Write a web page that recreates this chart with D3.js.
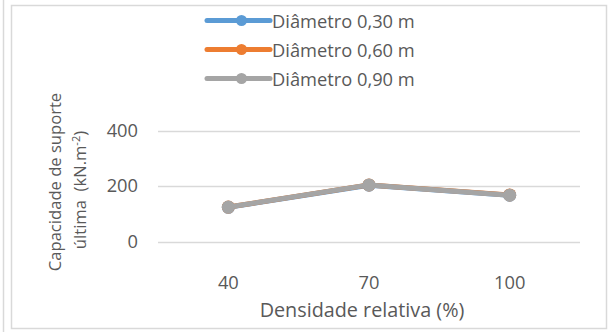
<!DOCTYPE html>
<html>
<head>
<meta charset="utf-8">
<script src="https://cdn.jsdelivr.net/npm/d3@7"></script>
<style>
  html, body { margin: 0; padding: 0; background: #fff; }
  svg { display: block; }
  text { font-family: "Open Sans", Lato, sans-serif; fill: #595959; }
</style>
</head>
<body>
<script>
// Densidade relativa (%) categories and ultimate bearing capacity per pile diameter
const categories = ["40", "70", "100"];
const seriesNames = ["Diâmetro 0,30 m", "Diâmetro 0,60 m", "Diâmetro 0,90 m"];
const diam030 = [123, 203, 167];
const diam060 = [124, 204, 168];
const diam090 = [124, 204, 167];
const yTicks = [0, 200, 400];
const colors = ["#5B9BD5", "#ED7D31", "#A5A5A5"];

const seriesValues = [diam030, diam060, diam090];
const W = 609, H = 332;
const plot = { left: 158, right: 580, top: 130.5, bottom: 241.5 };
const FONT = "'Open Sans', Lato, sans-serif";
const TICK_SIZE = "18.3px", XTITLE_SIZE = "19.8px", YTITLE_SIZE = "16.6px";

const svg = d3.select("body").append("svg").attr("width", W).attr("height", H);

// outer frames
svg.append("line").attr("x1", 3.5).attr("x2", 3.5).attr("y1", 0).attr("y2", H)
  .attr("stroke", "#D9D9D9").attr("stroke-width", 1.5);
svg.append("rect").attr("x", 11.5).attr("y", 5.5).attr("width", 595).attr("height", 323)
  .attr("fill", "none").attr("stroke", "#D9D9D9").attr("stroke-width", 1.5);

const x = d3.scaleBand().domain(categories).range([plot.left, plot.right]);
const y = d3.scaleLinear().domain([0, 400]).range([plot.bottom, plot.top]);

// gridlines
svg.append("g").selectAll("line").data(yTicks).join("line")
  .attr("x1", plot.left).attr("x2", plot.right)
  .attr("y1", d => Math.round(y(d)) + 0.5).attr("y2", d => Math.round(y(d)) + 0.5)
  .attr("stroke", "#D9D9D9").attr("stroke-width", 1.5);

// y axis labels
const yAxis = d3.axisLeft(y).tickValues(yTicks).tickSize(0).tickPadding(0);
const gy = svg.append("g").attr("transform", `translate(138,0)`).call(yAxis);
gy.select(".domain").remove();
gy.selectAll("text").style("font-size", TICK_SIZE).attr("fill", "#595959")
  .style("font-family", FONT);

// x axis labels
const xAxis = d3.axisBottom(x).tickSize(0).tickPadding(0);
const gx = svg.append("g").attr("transform", `translate(0,276)`).call(xAxis);
gx.select(".domain").remove();
gx.selectAll("text").style("font-size", TICK_SIZE).attr("fill", "#595959")
  .style("font-family", FONT);

// axis titles
svg.append("text").attr("x", 362).attr("y", 316.5).attr("text-anchor", "middle")
  .style("font-size", XTITLE_SIZE).text("Densidade relativa (%)");

const yt = svg.append("text").attr("transform", "translate(0,182) rotate(-90)")
  .attr("text-anchor", "middle").style("font-size", YTITLE_SIZE);
yt.append("tspan").attr("x", 0).attr("y", 61).text("Capacidade de suporte");
const yt2 = svg.append("text").attr("transform", "translate(0,190) rotate(-90)")
  .attr("text-anchor", "middle").style("font-size", YTITLE_SIZE)
  .style("white-space", "pre");
yt2.append("tspan").attr("y", 86).text("última  (kN.m");
yt2.append("tspan").attr("dy", -6).style("font-size", "11px").text("-2");
yt2.append("tspan").attr("dy", 6).text(")");

// series lines and markers
const line = d3.line().x((d, i) => x(categories[i]) + x.bandwidth() / 2).y(d => y(d));
seriesValues.forEach((vals, s) => {
  const g = svg.append("g");
  g.append("path").datum(vals).attr("d", line).attr("fill", "none")
    .attr("stroke", colors[s]).attr("stroke-width", 5).attr("stroke-linejoin", "round");
  g.selectAll("circle").data(vals).join("circle")
    .attr("cx", (d, i) => x(categories[i]) + x.bandwidth() / 2)
    .attr("cy", d => y(d)).attr("r", 6.5).attr("fill", colors[s]);
});

// legend
const legend = svg.append("g");
seriesNames.forEach((name, s) => {
  const ly = 20.5 + s * 29;
  legend.append("line").attr("x1", 207).attr("x2", 270).attr("y1", ly).attr("y2", ly)
    .attr("stroke", colors[s]).attr("stroke-width", 5).attr("stroke-linecap", "round");
  legend.append("circle").attr("cx", 241.5).attr("cy", ly).attr("r", 5.5).attr("fill", colors[s]);
  legend.append("text").attr("x", 272).attr("y", ly + 7.5)
    .style("font-size", TICK_SIZE).text(name);
});
</script>
</body>
</html>
